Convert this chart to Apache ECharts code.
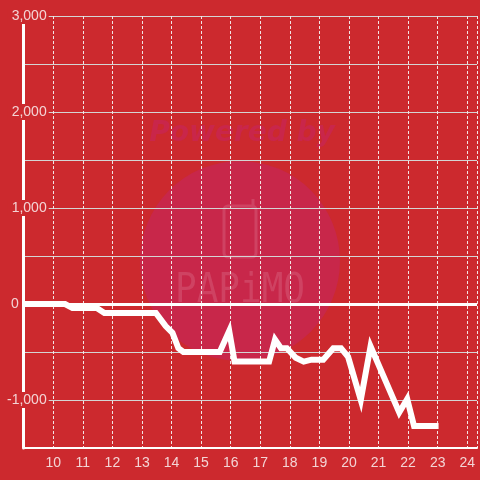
<!DOCTYPE html>
<html>
<head>
<meta charset="utf-8">
<script src="https://cdn.jsdelivr.net/npm/echarts@6/dist/echarts.min.js"></script>
<style>
    html, body {margin: 0; padding: 0; background: #CC292E;}
    #chart {width: 480px; height: 480px;}
</style>
</head>
<body>
<div id="chart"></div>
<script>
// 时间（小时）和数值
var hours = [9, 10.4, 10.65, 11.47, 11.73, 13.47, 13.8, 14.03, 14.23, 14.4, 15.63, 15.95, 16.13, 17.3, 17.5, 17.7, 17.9, 18.2, 18.47, 18.73, 19.13, 19.47, 19.73, 19.97, 20.4, 20.73, 21.7, 21.97, 22.2, 23.03];
var values = [0, 0, -42, -42, -94, -94, -230, -300, -460, -500, -500, -280, -600, -600, -370, -460, -460, -560, -600, -580, -580, -460, -460, -550, -1000, -440, -1130, -990, -1270, -1270];
var yMin = -1500, yMax = 3000;
var xMin = 9, xMax = 24.33;

var textColor = '#F3D4D5';
var bgColor = '#CC292E';

var chart = echarts.init(document.getElementById('chart'));

var points = hours.map(function (h, i) {
    return [h, values[i]];
});

var option = {
    backgroundColor: bgColor,
    animation: false,
    grid: {left: 20, right: 0, top: 16, bottom: 32},
    graphic: [
        // 水印
        {type: 'circle', z: -5, silent: true, shape: {cx: 240, cy: 261, r: 100}, style: {fill: '#C8274A'}},
        {type: 'text', z: -5, silent: true, x: 242, y: 134, style: {
            text: 'Powered by', fill: '#C9264A', font: 'italic bold 28px "DejaVu Sans"',
            align: 'center', verticalAlign: 'middle'}},
        {type: 'rect', z: -5, silent: true, shape: {x: 224, y: 206, width: 32, height: 51, r: 4},
            style: {fill: 'none', stroke: '#CF4262', lineWidth: 3}},
        {type: 'line', z: -5, silent: true, shape: {x1: 253, y1: 199, x2: 253, y2: 208},
            style: {stroke: '#CF4262', lineWidth: 3}},
        {type: 'text', z: -5, silent: true, x: 240, y: 291, scaleY: 1.15, style: {
            text: 'PAPiMO', fill: '#CF4262', font: '36px "DejaVu Sans Mono"',
            align: 'center', verticalAlign: 'middle'}}
    ],
    xAxis: {
        type: 'value',
        min: xMin,
        max: xMax,
        interval: 1,
        axisLine: {show: true, onZero: false, lineStyle: {color: '#FFFFFF', width: 2}},
        axisTick: {show: false},
        axisLabel: {
            color: textColor, fontSize: 14, fontFamily: 'Liberation Sans', margin: 8,
            formatter: function (v) {
                return (v >= 10 && v % 1 === 0) ? String(v) : '';
            }
        },
        splitLine: {show: true, lineStyle: {color: '#F2E4E4', width: 1, type: [3, 2]}}
    },
    yAxis: {
        type: 'value',
        min: yMin,
        max: yMax,
        interval: 500,
        axisLine: {show: true, lineStyle: {color: '#FFFFFF', width: 3}},
        axisTick: {show: false},
        axisLabel: {
            inside: true,
            align: 'right',
            margin: 25,
            fontSize: 14,
            fontFamily: 'Liberation Sans',
            color: textColor,
            formatter: function (v) {
                if (v % 1000 !== 0 || v === yMin) return '';
                if (v === 0) return '{z|0}';
                return '{b|' + v.toLocaleString('en-US') + '}';
            },
            rich: {
                b: {color: textColor, fontSize: 14, fontFamily: 'Liberation Sans',
                    backgroundColor: bgColor, padding: [1, 2, 1, 4]},
                z: {color: textColor, fontSize: 14, fontFamily: 'Liberation Sans',
                    padding: [1, 30, 1, 0]}
            }
        },
        splitLine: {show: true, lineStyle: {color: '#D4D4D4', width: 1}}
    },
    series: [
        {
            type: 'line',
            data: [],
            silent: true,
            z: 1,
            markLine: {
                silent: true,
                symbol: 'none',
                label: {show: false},
                lineStyle: {color: '#FFFFFF', width: 3, type: 'solid'},
                data: [{yAxis: 0}]
            }
        },
        {
            type: 'line',
            data: points,
            z: 3,
            symbol: 'none',
            lineStyle: {color: '#FFFFFF', width: 6, join: 'miter'}
        }
    ]
};

chart.setOption(option);
</script>
</body>
</html>
